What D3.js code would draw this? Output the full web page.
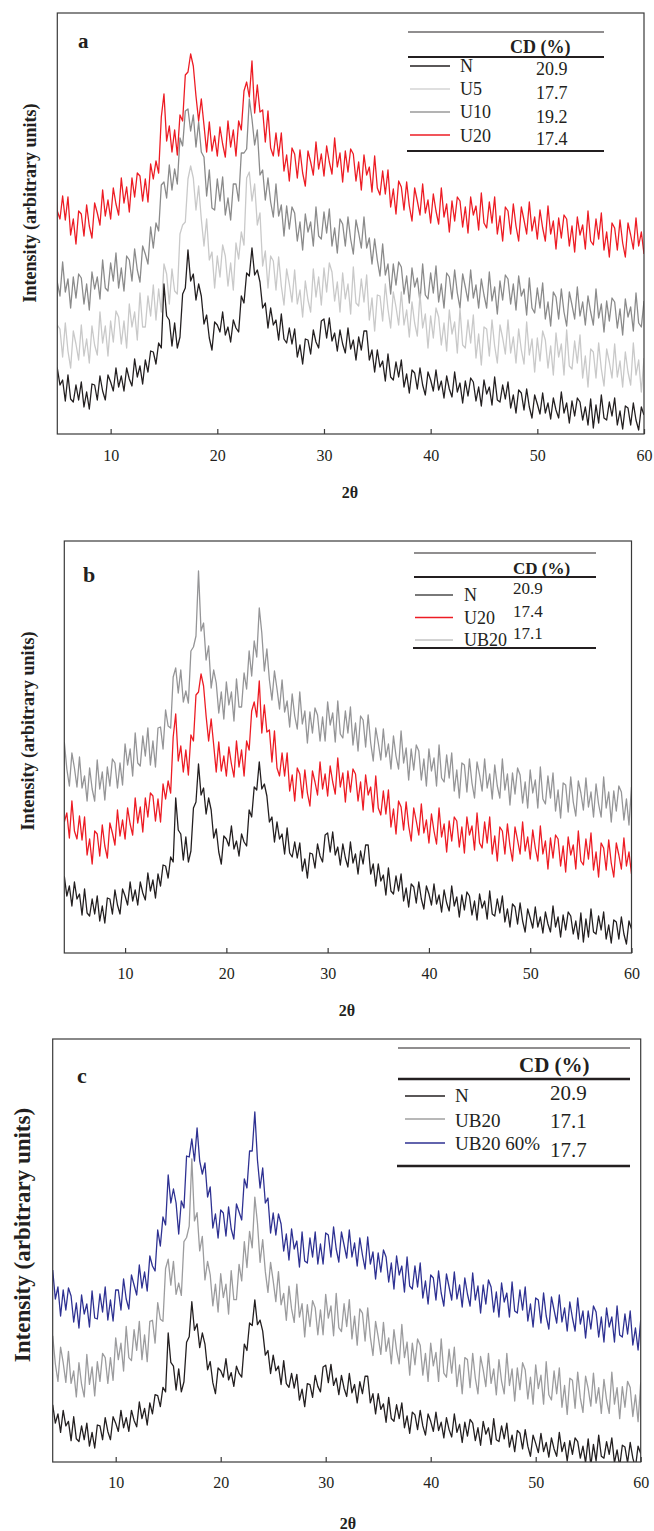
<!DOCTYPE html>
<html>
<head>
<meta charset="utf-8">
<script src="https://cdnjs.cloudflare.com/ajax/libs/d3/7.8.5/d3.min.js"></script>
<style>
  body { margin: 0; background: #fff; }
  svg { display: block; }
  text { font-family: "Liberation Serif", "Times New Roman", serif; fill: #231f20; }
</style>
</head>
<body>
<svg id="chart" width="654" height="1531"></svg>
<script>
// scan: 2θ from 4° to 60°, one reading every 0.25°
const thetaStart = 4, thetaStep = 0.25;
const xTicks = [10, 20, 30, 40, 50, 60];

// intensities (arbitrary units)
const N = [72,52,62,42,66,49,54,33,59,35, 32,49,34,52,27,42,25,50,49,34,
  58,43,34,59,52,43,66,47,58,43, 66,55,48,75,57,68,50,74,62,83,
  82,70,91,86,150,118,114,88,111,86, 97,140,146,184,153,160,134,150,138,110,
  119,96,84,112,109,102,122,99,107,92, 114,106,102,138,131,161,158,186,159,164,
  152,126,131,106,126,109,114,94,120,95, 91,106,90,105,77,89,70,95,94,80,
  104,92,86,113,115,96,116,93,101,83, 104,90,81,106,85,94,74,97,84,103,
  103,74,84,62,84,67,73,53,80,57, 54,72,57,74,47,60,41,64,61,45,
  66,49,39,62,54,43,64,44,53,36, 58,45,37,62,42,51,31,53,38,56,
  52,33,47,28,54,40,47,29,57,34, 32,49,35,52,26,39,21,44,41,24,
  45,27,16,39,30,20,41,21,31,15, 36,24,16,42,21,31,11,33,18,36,
  32,14,27,9,35,6,29,11,39,16, 14,32,18,36,9,23,5,28,26,9,
  31,14,4,27,19];

const U5 = [74,31,54,22,59,55,27,61,33,16, 53,40,24,59,28,45,21,58,39,29,
  72,41,58,28,63,42,73,67,40,63, 36,80,57,72,44,91,57,57,88,68,
  99,64,95,72,120,110,80,115,93,90, 150,159,162,205,218,206,174,198,165,138,
  165,124,132,96,128,107,139,128,98,121, 94,141,125,152,139,206,212,183,200,159,
  171,118,133,96,128,123,94,127,98,79, 115,100,82,114,80,94,67,103,84,72,
  115,87,107,79,116,92,121,112,83,102, 72,111,85,100,70,117,81,78,105,82,
  109,64,86,53,89,88,63,100,75,56, 92,77,59,92,59,74,47,82,61,48,
  90,56,70,36,68,46,76,67,39,61, 33,74,50,62,31,75,39,36,64,41,
  69,26,50,19,57,55,28,64,38,21, 59,46,30,64,31,47,21,55,34,20,
  62,29,45,12,46,23,53,44,16,38, 9,51,27,40,9,54,18,15,43,21,
  49,6,28,-3,35,32,6,41,15,-2, 35,22,6,40,7,23,-3,32,12,-1,
  41,9,24,-8,26];

const U10 = [52,64,41,69,52,38,72,42,55,26, 57,36,60,56,30,50,24,62,45,57,
  35,74,46,43,71,53,81,46,66,43, 78,74,53,85,64,52,88,80,70,107,
  86,111,103,149,152,136,169,144,165,150, 196,188,223,225,203,219,187,212,182,177,
  138,164,126,124,155,133,157,119,136,114, 150,150,133,181,181,185,235,215,189,204,
  159,164,134,156,132,117,150,118,129,98, 128,105,127,121,93,112,84,120,102,112,
  88,127,98,95,122,101,125,88,106,81, 115,110,88,117,95,80,114,101,86,117,
  86,96,70,95,74,58,90,59,70,40, 70,49,72,67,40,58,31,66,47,56,
  32,70,39,35,61,41,68,32,50,26, 61,57,35,64,41,26,60,47,33,64,
  36,49,26,55,39,26,62,33,47,20, 53,34,59,55,30,50,24,58,38,45,
  19,56,26,21,46,26,51,15,32,8, 42,37,15,45,22,8,42,29,15,47,
  18,32,9,38,22,9,45,16,30,2, 33,13,36,32,6,25,-1,35,17,27,
  3,41,11,7,33];

const U20 = [62,71,46,83,53,45,68,44,67,29, 45,20,53,50,28,59,38,26,61,51,
  39,74,48,64,45,76,60,49,86,61, 77,52,86,67,91,88,63,85,62,100,
  85,103,91,147,170,123,138,112,134,109, 149,143,189,192,210,198,168,143,165,139,
  112,142,113,128,108,137,120,107,143,117, 134,108,143,134,173,182,167,203,151,179,
  152,154,122,153,116,108,131,108,131,93, 109,83,116,110,86,114,91,78,113,102,
  89,122,95,110,88,118,102,90,126,97, 111,82,113,92,115,110,83,102,74,109,
  89,97,72,108,76,69,93,70,94,57, 75,50,83,77,54,82,58,43,76,63,
  49,80,51,64,41,70,53,40,76,47, 60,32,63,43,67,63,37,57,31,67,
  49,58,34,71,41,36,62,41,67,30, 48,23,57,53,30,60,38,23,57,44,
  30,62,33,47,25,54,36,23,58,30, 43,15,46,26,49,45,18,38,12,47,
  29,39,15,53,23,19,45,25,51,14, 32,7,41,36,14,44,21,7,41,29,
  15,46,18,32,10];

const UB20 = [91,64,47,80,65,46,76,45,57,32, 65,44,32,73,44,61,33,66,47,74,
  70,45,70,48,89,68,84,57,100,70, 67,97,77,105,68,92,66,105,106,84,
  123,107,105,156,165,140,163,131,142,130, 182,186,197,262,202,210,173,187,145,163,
  150,120,141,114,151,128,141,112,154,126, 126,160,144,182,157,192,176,225,200,162,
  184,153,133,162,144,124,153,121,132,106, 139,117,104,141,109,122,90,121,100,125,
  118,92,116,92,131,108,120,91,132,99, 95,122,100,126,88,110,82,117,113,86,
  118,90,72,105,90,73,104,76,89,64, 97,77,64,102,70,85,53,84,63,88,
  82,53,74,47,84,62,75,47,88,55, 51,78,55,80,42,63,35,70,68,41,
  74,50,35,71,58,42,74,45,59,34, 68,47,35,74,43,59,28,60,39,65,
  58,30,51,25,63,40,53,25,66,34, 29,57,35,60,22,43,15,50,48,21,
  56,31,17,52,40,23,55,26,41,16, 49,29,16,56,25,41,11,42,22,47,
  41,13,34,8,46];

const UB20_60 = [82,53,65,36,62,42,64,56,30,49, 24,57,38,48,25,61,34,33,58,40,
  65,32,52,31,62,62,42,73,53,43, 77,67,57,87,64,80,61,96,86,81,
  122,106,135,127,177,149,163,149,118,151, 144,196,195,213,191,224,191,178,189,155,
  165,124,138,114,142,139,116,145,123,113, 148,140,132,173,164,201,201,240,192,164,
  184,149,154,119,139,117,138,128,101,118, 92,123,103,111,85,120,91,89,114,95,
  120,88,108,88,119,117,95,125,103,90, 120,107,94,122,95,109,86,114,97,83,
  115,88,100,73,99,80,102,95,70,89, 63,96,77,86,60,95,66,63,86,65,
  89,54,71,48,77,74,52,81,59,46, 78,65,52,80,53,67,45,74,58,46,
  79,52,66,39,67,48,72,65,40,60, 35,69,50,59,35,70,41,39,62,42,
  65,31,48,25,54,52,29,59,36,23, 55,42,29,57,30,44,21,50,34,21,
  54,28,41,14,41,23,46,40,15,35, 10,44,25,35,10,46,17,15,38,18,
  41,7,24,2,32];

// legend tables: sample names and crystallinity degree CD (%)
const namesA = ["N", "U5", "U10", "U20"];
const cdA = ["20.9", "17.7", "19.2", "17.4"];
const namesB = ["N", "U20", "UB20"];
const cdB = ["20.9", "17.4", "17.1"];
const namesC = ["N", "UB20", "UB20 60%"];
const cdC = ["20.9", "17.1", "17.7"];

const ink = "#231f20";
const svg = d3.select("#chart");

const panels = [
  {
    letter: "a", letterPos: [78, 48], letterSize: 21,
    box: {left: 57.3, right: 644, top: 13, bottom: 434},
    thetaDomain: [5, 60], yMax: 421, tickPad: 16,
    xTitle: [350, 498], yTitle: [30, 203], yTitleSize: 18,
    traces: [
      {data: U10, gain: 1, offset: 100, color: "#8b8b8b"},
      {data: U5, gain: 1, offset: 50, color: "#c9c9c9"},
      {data: N, gain: 1, offset: 0, color: ink},
      {data: U20, gain: 1, offset: 170, color: "#ed1c24"}
    ],
    legend: {
      names: namesA, cd: cdA, colors: [ink, "#d4d4d4", "#9a9a9a", "#ed1c24"],
      left: 408, right: 604, top: 32, rule: 57, bottom: 151, ruleW: 2.2,
      headX: 510, headY: 53, headSize: 18, size: 18, valueSize: 18,
      lineX: [410, 450], labelX: 460, valueX: 536,
      labelY: [72, 95, 118, 142], valueY: [75, 99, 123, 145], lineY: [66, 89, 112, 135]
    }
  },
  {
    letter: "b", letterPos: [83, 582], letterSize: 22,
    box: {left: 64.3, right: 631.5, top: 541, bottom: 953},
    thetaDomain: [4, 60], yMax: 412, tickPad: 15,
    xTitle: [347, 1016], yTitle: [28, 731], yTitleSize: 18,
    traces: [
      {data: UB20, gain: 1, offset: 120, color: "#959597"},
      {data: U20, gain: 1, offset: 69, color: "#ed1c24"},
      {data: N, gain: 1, offset: 5, color: ink}
    ],
    legend: {
      names: namesB, cd: cdB, colors: ["#4d4d4d", "#ed1c24", "#c4c4c4"],
      left: 414, right: 596, top: 553, rule: 577, bottom: 648, ruleW: 2.2,
      headX: 513, headY: 574, headSize: 17, size: 18, valueSize: 17,
      lineX: [415, 453], labelX: 464, valueX: 513,
      labelY: [601, 623.5, 646], valueY: [594, 616.5, 639], lineY: [595, 617.5, 640]
    }
  },
  {
    letter: "c", letterPos: [77, 1083], letterSize: 22,
    box: {left: 52.7, right: 640.7, top: 1039, bottom: 1462},
    thetaDomain: [4, 60], yMax: 423, tickPad: 15,
    xTitle: [348, 1529], yTitle: [22, 1235], yTitleSize: 23,
    traces: [
      {data: UB20_60, gain: 1, offset: 110, color: "#2e3192"},
      {data: UB20, gain: 1.035, offset: 32, color: "#9c9c9e"},
      {data: N, gain: 0.92, offset: -9, color: ink}
    ],
    legend: {
      names: namesC, cd: cdC, colors: [ink, "#a0a0a0", "#2e3192"],
      left: 398, right: 630, top: 1048, rule: 1079, bottom: 1166, ruleW: 2.6,
      headX: 519, headY: 1072, headSize: 21, size: 19, valueSize: 21,
      lineX: [405, 445], labelX: 455, valueX: 550,
      labelY: [1102, 1127, 1150], valueY: [1100, 1128, 1157], lineY: [1096, 1119, 1143]
    }
  }
];

panels.forEach(drawPanel);

function drawPanel(p) {
  const b = p.box;
  const x = d3.scaleLinear().domain(p.thetaDomain).range([b.left, b.right]);
  const y = d3.scaleLinear().domain([0, p.yMax]).range([b.bottom, b.top]);
  const g = svg.append("g");
  const clipId = "clip-" + p.letter;

  g.append("clipPath").attr("id", clipId)
    .append("rect")
    .attr("x", b.left).attr("y", b.top)
    .attr("width", b.right - b.left).attr("height", b.bottom - b.top);

  // diffraction patterns
  p.traces.forEach(t => {
    const line = d3.line()
      .x((d, i) => x(thetaStart + i * thetaStep))
      .y(d => y(d * t.gain + t.offset));
    g.append("path")
      .datum(t.data)
      .attr("clip-path", `url(#${clipId})`)
      .attr("fill", "none")
      .attr("stroke", t.color)
      .attr("stroke-width", 1.3)
      .attr("stroke-linejoin", "round")
      .attr("d", line);
  });

  // frame
  g.append("rect")
    .attr("x", b.left).attr("y", b.top)
    .attr("width", b.right - b.left).attr("height", b.bottom - b.top)
    .attr("fill", "none").attr("stroke", "#3a3a3a").attr("stroke-width", 1.2);

  // x axis, ticks pointing inward
  const axis = d3.axisBottom(x)
    .tickValues(xTicks)
    .tickSize(-5)
    .tickSizeOuter(0)
    .tickPadding(p.tickPad);
  const ax = g.append("g")
    .attr("transform", `translate(0,${b.bottom})`)
    .call(axis)
    .attr("font-family", "Liberation Serif, serif")
    .attr("font-size", 16);
  ax.select(".domain").remove();
  ax.selectAll(".tick line").attr("stroke", "#3a3a3a").attr("stroke-width", 1.2);
  ax.selectAll(".tick text").attr("fill", ink);

  g.append("text")
    .attr("x", p.xTitle[0]).attr("y", p.xTitle[1])
    .attr("text-anchor", "middle")
    .attr("font-weight", "bold").attr("font-size", 16)
    .text("2θ");

  g.append("text")
    .attr("transform", `translate(${p.yTitle[0]},${p.yTitle[1]}) rotate(-90)`)
    .attr("text-anchor", "middle").attr("dy", "0.35em")
    .attr("font-weight", "bold").attr("font-size", p.yTitleSize)
    .text("Intensity (arbitrary units)");

  g.append("text")
    .attr("x", p.letterPos[0]).attr("y", p.letterPos[1])
    .attr("font-weight", "bold").attr("font-size", p.letterSize)
    .text(p.letter);

  drawLegend(g, p.legend);
}

function drawLegend(g, L) {
  g.append("line")
    .attr("x1", L.left).attr("x2", L.right).attr("y1", L.top).attr("y2", L.top)
    .attr("stroke", ink).attr("stroke-width", 1.1);
  g.append("line")
    .attr("x1", L.left).attr("x2", L.right).attr("y1", L.rule).attr("y2", L.rule)
    .attr("stroke", ink).attr("stroke-width", L.ruleW);
  g.append("line")
    .attr("x1", L.left - 1).attr("x2", L.right).attr("y1", L.bottom).attr("y2", L.bottom)
    .attr("stroke", ink).attr("stroke-width", L.ruleW);

  g.append("text")
    .attr("x", L.headX).attr("y", L.headY)
    .attr("font-weight", "bold").attr("font-size", L.headSize)
    .text("CD (%)");

  L.names.forEach((name, i) => {
    g.append("line")
      .attr("x1", L.lineX[0]).attr("x2", L.lineX[1])
      .attr("y1", L.lineY[i]).attr("y2", L.lineY[i])
      .attr("stroke", L.colors[i]).attr("stroke-width", 1.5);
    g.append("text")
      .attr("x", L.labelX).attr("y", L.labelY[i])
      .attr("font-size", L.size)
      .text(name);
    g.append("text")
      .attr("x", L.valueX).attr("y", L.valueY[i])
      .attr("font-size", L.valueSize)
      .text(L.cd[i]);
  });
}
</script>
</body>
</html>
